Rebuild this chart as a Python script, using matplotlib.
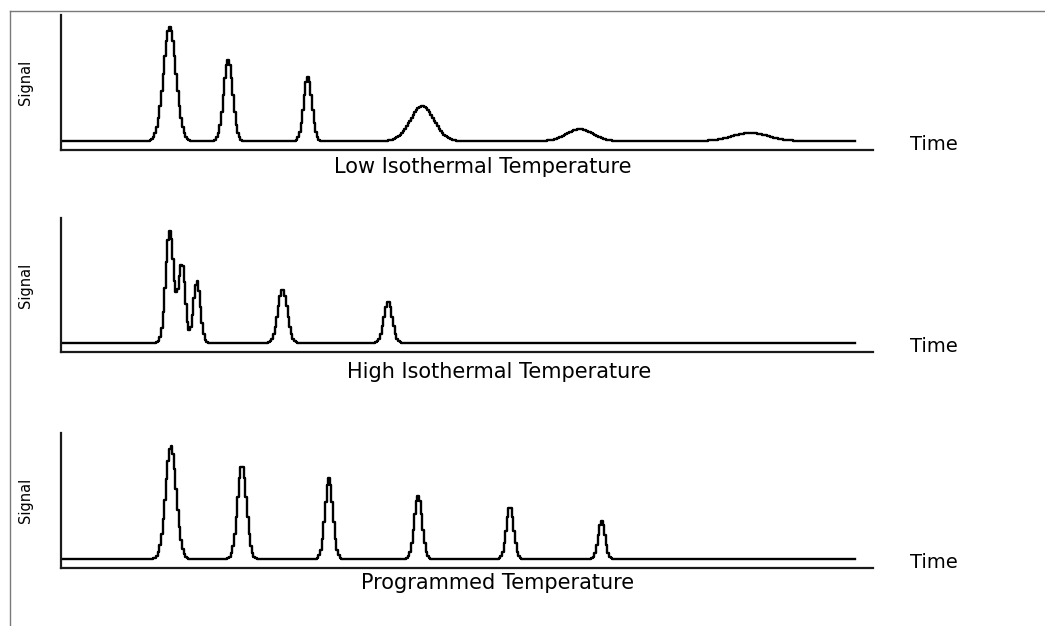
"""Gas chromatograms at low / high isothermal and programmed column temperature."""
import matplotlib

matplotlib.use("Agg")
import matplotlib.pyplot as plt
import numpy as np
from matplotlib.lines import Line2D

# peak tables: retention time (a.u.), height (a.u.), width sigma (a.u.)
low_rt = [13.4, 20.6, 30.4, 44.5, 63.9, 84.9]
low_height = [114, 81, 64, 35, 12, 8]
low_sigma = [0.78, 0.56, 0.5, 1.45, 1.6, 2.2]

high_rt = [13.4, 14.9, 16.75, 27.3, 40.3]
high_height = [112, 78, 62, 54, 42]
high_sigma = [0.5, 0.42, 0.43, 0.58, 0.52]

prog_rt = [13.55, 22.3, 33.0, 44.0, 55.3, 66.6]
prog_height = [113, 94, 81, 63, 52, 38]
prog_sigma = [0.66, 0.55, 0.48, 0.48, 0.45, 0.42]

titles = ["Low Isothermal Temperature", "High Isothermal Temperature", "Programmed Temperature"]
run_end = 98.0  # end of recorded trace

# panel geometry in pixels of the 1045x626 figure: (top, bottom) of the axes
panel_px = [(15, 150), (218, 352), (433, 568)]
title_pos = [(0.52, -0.125), (0.539, -0.15), (0.538, -0.112)]

W, H = 1045, 626


def chromatogram(t, rts, heights, sigmas):
    y = np.zeros_like(t)
    for rt, h, s in zip(rts, heights, sigmas):
        y += h * np.exp(-0.5 * ((t - rt) / s) ** 2)
    return y


fig = plt.figure(figsize=(W / 100, H / 100), dpi=100)
fig.add_artist(Line2D([10 / W, 1], [1 - 11 / H, 1 - 11 / H], color="#7a7a7a", lw=1))
fig.add_artist(Line2D([10 / W, 10 / W], [0, 1 - 11 / H], color="#7a7a7a", lw=1))

t = np.arange(0, run_end, 0.2)
peaks = [(low_rt, low_height, low_sigma), (high_rt, high_height, high_sigma),
         (prog_rt, prog_height, prog_sigma)]

for (top, bot), (rts, hs, ss), title, (tx, ty) in zip(panel_px, peaks, titles, title_pos):
    ax = fig.add_axes([61 / W, 1 - bot / H, 812 / W, (bot - top) / H])
    ax.plot(t, chromatogram(t, rts, hs, ss), color="black", lw=1.7, drawstyle="steps-mid")
    ax.set_xlim(0, 100)
    ax.set_ylim(-9, bot - top - 9)
    for side in ("top", "right"):
        ax.spines[side].set_visible(False)
    for side in ("left", "bottom"):
        ax.spines[side].set_linewidth(1.6)
        ax.spines[side].set_color("#1a1a1a")
    ax.set_xticks([])
    ax.set_yticks([])
    ax.set_facecolor("none")
    ax.text(1.075, 0.04, "Time", transform=ax.transAxes, ha="center", va="center",
            fontsize=14, family="DejaVu Sans")
    ax.text(-0.044, 0.5, "Signal", transform=ax.transAxes, ha="center", va="center",
            rotation=90, fontsize=10.5, family="DejaVu Sans")
    ax.text(tx, ty, title, transform=ax.transAxes, ha="center", va="center",
            fontsize=15, family="DejaVu Sans")

fig.savefig("out.png", dpi=100)
plt.close(fig)
